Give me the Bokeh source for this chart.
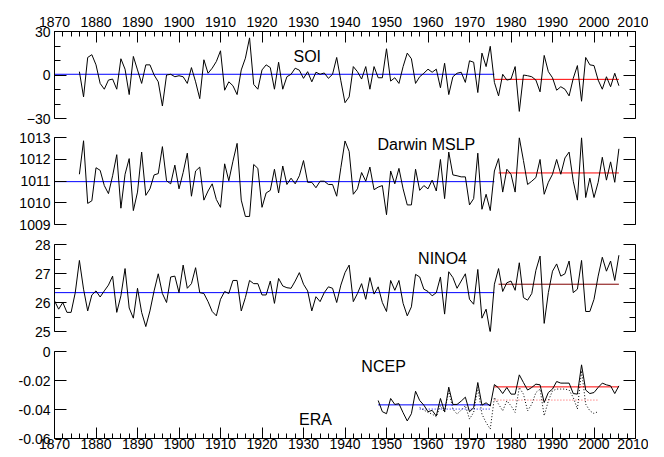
from bokeh.plotting import figure
from bokeh.layouts import column
from bokeh.models import Range1d, LinearAxis, FixedTicker, CustomJSTickFormatter, Label
from bokeh.embed import file_html
from bokeh.resources import INLINE

# ---------------- data ----------------
soi_years = list(range(1876, 2007))
soi = [2.3, -15.1, 12.1, 14.0, 7.0, -5.8, -9.8, -3.5, -2.8, -9.8,
       11.2, 4.0, -13.5, 12.8, 3.5, -5.8, 7.0, 7.0, 0.0, -4.7,
       -21.4, 0.0, 0.5, -1.2, -0.5, -1.2, -5.8, 5.1, -4.7, -16.3,
       10.5, 1.2, 4.7, 9.3, 16.7, -10.5, -4.7, -7.4, -13.5, 3.5,
       11.6, 25.6, -6.5, -9.8, 3.5, 7.0, 5.1, -9.8, 8.8, -9.8,
       -1.2, 0.5, 4.7, 3.3, -2.3, 2.3, -4.7, 1.9, 0.5, 1.4,
       -2.3, 0.5, 12.1, -4.0, -19.1, -15.1, 5.8, 2.3, -2.8, 5.8,
       -9.8, 5.8, -1.9, -1.9, 18.1, -4.2, -1.9, -5.8, 5.8, 15.1,
       11.2, -5.8, -1.2, 1.2, 4.0, 1.9, 4.0, -8.8, 8.1, -13.5,
       -1.2, 1.2, 1.9, -5.1, 9.8, 8.8, -12.1, 15.1, 5.8, 19.8,
       -5.1, -14.4, 0.5, -3.5, -2.8, 5.8, -25.1, 0.0, -0.5, -1.2,
       -3.5, -11.6, 13.5, 2.3, -1.9, -10.5, -8.1, -9.8, -14.4, -2.3,
       6.5, -18.1, 12.1, 7.0, 6.5, -3.5, -9.8, -1.2, -8.1, 1.2, -7.4]
soi_early_years = [1870, 1976]
soi_early_mean = [0.5, 0.5]
soi_late_years = [1976, 2006]
soi_late_mean = [-3.0, -3.0]

darwin_years = list(range(1876, 2007))
darwin = [1011.31, 1012.85, 1009.97, 1010.09, 1011.61, 1011.49, 1010.79, 1010.42, 1011.24, 1012.21,
          1009.75, 1011.31, 1012.03, 1009.64, 1010.49, 1012.33, 1010.34, 1010.64, 1011.28, 1011.34,
          1012.58, 1011.01, 1010.87, 1011.73, 1010.64, 1011.39, 1012.28, 1010.30, 1011.46, 1011.64,
          1010.12, 1010.54, 1010.87, 1010.15, 1009.79, 1011.79, 1011.01, 1011.91, 1012.73, 1010.12,
          1009.37, 1009.37, 1011.76, 1011.58, 1009.79, 1010.45, 1010.57, 1011.54, 1010.45, 1011.69,
          1010.84, 1011.13, 1010.87, 1011.24, 1011.94, 1010.94, 1010.94, 1010.69, 1010.99, 1010.99,
          1010.84, 1010.84, 1010.30, 1011.61, 1012.84, 1012.36, 1010.39, 1010.64, 1011.39, 1010.99,
          1011.64, 1010.60, 1010.72, 1010.79, 1009.45, 1011.46, 1010.87, 1011.58, 1010.64, 1009.90,
          1009.90, 1011.54, 1010.57, 1010.79, 1010.64, 1011.04, 1010.54, 1011.99, 1010.19, 1012.33,
          1011.28, 1011.24, 1011.19, 1011.19, 1009.90, 1010.19, 1012.28, 1009.70, 1010.39, 1009.64,
          1011.46, 1012.03, 1010.49, 1011.54, 1011.31, 1010.49, 1012.99, 1011.94, 1010.84, 1010.99,
          1011.16, 1011.99, 1010.39, 1010.94, 1011.31, 1011.99, 1011.31, 1012.06, 1012.33, 1010.99,
          1010.12, 1012.99, 1010.24, 1011.13, 1010.24, 1010.94, 1012.09, 1011.04, 1011.88, 1010.94, 1012.48]
darwin_early_years = [1870, 1976]
darwin_early_mean = [1010.97, 1010.97]
darwin_late_years = [1977, 2006]
darwin_late_mean = [1011.37, 1011.37]

nino4_years = list(range(1870, 2007))
nino4 = [26.06, 25.77, 26.00, 25.66, 25.66, 26.34, 27.45, 26.46, 25.71, 26.26,
         26.40, 26.19, 26.40, 26.60, 26.91, 25.66, 26.23, 27.17, 25.81, 25.46,
         26.49, 25.66, 25.17, 25.71, 26.40, 26.99, 26.31, 26.00, 26.88, 26.91,
         26.34, 27.29, 26.49, 26.65, 27.20, 26.34, 26.31, 26.03, 25.69, 25.54,
         26.11, 26.38, 26.31, 26.76, 26.76, 25.71, 26.17, 26.76, 26.65, 26.65,
         26.26, 26.26, 26.74, 25.97, 26.83, 26.57, 26.51, 26.49, 26.74, 27.03,
         26.63, 26.40, 25.71, 26.20, 26.03, 26.34, 26.54, 26.49, 26.00, 26.60,
         27.03, 27.29, 26.03, 26.31, 26.65, 26.11, 26.86, 26.29, 26.54, 26.00,
         25.69, 26.76, 26.42, 26.76, 25.97, 25.54, 25.85, 26.97, 26.88, 26.46,
         26.38, 26.23, 26.34, 26.88, 25.60, 27.06, 26.86, 26.49, 26.74, 26.99,
         26.11, 25.94, 27.14, 25.46, 25.77, 24.95, 26.63, 27.17, 26.38, 26.68,
         26.74, 26.42, 27.37, 26.17, 26.08, 26.31, 27.11, 27.60, 25.28, 26.34,
         27.08, 27.33, 26.91, 26.99, 27.43, 26.34, 26.46, 27.45, 25.69, 25.69,
         26.11, 26.91, 27.56, 27.08, 27.43, 26.76, 27.63]
nino4_early_years = [1870, 1976]
nino4_early_mean = [26.34, 26.34]
nino4_late_years = [1977, 2006]
nino4_late_mean = [26.63, 26.63]

ncep_years = list(range(1948, 2007))
ncep = [-0.0338, -0.0415, -0.0429, -0.0324, -0.0365, -0.0360, -0.0422, -0.0479, -0.0429, -0.0274,
        -0.0338, -0.0370, -0.0415, -0.0406, -0.0445, -0.0324, -0.0415, -0.0246, -0.0365, -0.0365,
        -0.0342, -0.0315, -0.0415, -0.0388, -0.0214, -0.0370, -0.0354, -0.0376, -0.0228, -0.0251,
        -0.0290, -0.0248, -0.0294, -0.0294, -0.0161, -0.0214, -0.0266, -0.0248, -0.0225, -0.0230,
        -0.0352, -0.0283, -0.0259, -0.0207, -0.0218, -0.0218, -0.0218, -0.0290, -0.0294, -0.0092,
        -0.0266, -0.0290, -0.0283, -0.0248, -0.0218, -0.0230, -0.0237, -0.0290, -0.0237]
ncep_early_years = [1948, 1975]
ncep_early_mean = [-0.0368, -0.0368]
ncep_late_years = [1976, 2006]
ncep_late_mean = [-0.0244, -0.0244]

era_years = list(range(1958, 2002))
era = [-0.0386, -0.0404, -0.0420, -0.0432, -0.0450, -0.0374, -0.0420, -0.0271, -0.0397, -0.0432,
       -0.0404, -0.0374, -0.0466, -0.0420, -0.0248, -0.0432, -0.0490, -0.0535, -0.0317, -0.0363,
       -0.0409, -0.0340, -0.0374, -0.0420, -0.0248, -0.0294, -0.0409, -0.0363, -0.0283, -0.0259,
       -0.0443, -0.0340, -0.0271, -0.0259, -0.0259, -0.0259, -0.0266, -0.0317, -0.0397, -0.0133,
       -0.0363, -0.0409, -0.0428, -0.0414]
era_early_years = [1958, 1975]
era_early_mean = [-0.0397, -0.0397]
era_late_years = [1976, 2001]
era_late_mean = [-0.0335, -0.0335]

x_major = list(range(1870, 2011, 10))
x_minor = list(range(1870, 2011, 2))
soi_ticks = [-30, 0, 30]
soi_minor = [-30, -20, -10, 0, 10, 20, 30]
darwin_ticks = [1009, 1010, 1011, 1012, 1013]
nino4_ticks = [25, 26, 27, 28]
nino4_minor = [25, 25.5, 26, 26.5, 27, 27.5, 28]
p4_ticks = [-0.06, -0.04, -0.02, 0]

FONT = "Liberation Sans"
TICK_FS = "14px"
LABEL_FS = "16px"
W = 648


def make_panel(y0, y1, ticks, minor, height, top, bottom, fmt=None):
    p = figure(width=W, height=height, x_range=Range1d(1870, 2010), y_range=Range1d(y0, y1),
               output_backend="svg", toolbar_location=None,
               x_axis_location=None, y_axis_location=None,
               min_border_left=54, min_border_right=13,
               min_border_top=top, min_border_bottom=bottom)
    p.outline_line_color = None
    p.xgrid.visible = False
    p.ygrid.visible = False
    left = LinearAxis(ticker=FixedTicker(ticks=ticks, minor_ticks=minor),
                      major_tick_in=12, major_tick_out=0, minor_tick_in=6, minor_tick_out=0,
                      major_label_standoff=4, major_label_text_font=FONT,
                      major_label_text_font_size=TICK_FS, major_label_text_color="black",
                      axis_line_color="black", major_tick_line_color="black",
                      minor_tick_line_color="black")
    if fmt is not None:
        left.formatter = fmt
    p.add_layout(left, "left")
    right = LinearAxis(ticker=FixedTicker(ticks=ticks, minor_ticks=minor),
                       major_tick_in=12, major_tick_out=0, minor_tick_in=6, minor_tick_out=0,
                       major_label_standoff=0,
                       formatter=CustomJSTickFormatter(code="return '';"),
                       axis_line_color="black", major_tick_line_color="black",
                       minor_tick_line_color="black")
    p.add_layout(right, "right")
    return p


def x_axis(standoff):
    return LinearAxis(ticker=FixedTicker(ticks=x_major, minor_ticks=x_minor),
                      major_tick_in=11, major_tick_out=0, minor_tick_in=5, minor_tick_out=0,
                      major_label_standoff=standoff, major_label_text_font=FONT,
                      major_label_text_font_size=TICK_FS, major_label_text_color="black",
                      axis_line_color="black", major_tick_line_color="black",
                      minor_tick_line_color="black")


def add_label(p, x, y, text):
    p.add_layout(Label(x=x, y=y, text=text, text_align="center", text_baseline="middle",
                       text_font=FONT, text_font_size=LABEL_FS, text_color="black"))


# Panel 1: SOI
p1 = make_panel(-30, 30, soi_ticks, soi_minor, 127, 31, 9)
p1.add_layout(x_axis(5), "above")
p1.line(soi_early_years, soi_early_mean, line_color="#0000ff", line_width=1)
p1.line(soi_late_years, soi_late_mean, line_color="#ff0000", line_width=1)
p1.line(soi_years, soi, line_color="black", line_width=1)
add_label(p1, 1930.9, 12.8, "SOI")

# Panel 2: Darwin MSLP
p2 = make_panel(1009, 1013, darwin_ticks, darwin_ticks, 107, 10, 10)
p2.line(darwin_early_years, darwin_early_mean, line_color="#0000ff", line_width=1)
p2.line(darwin_late_years, darwin_late_mean, line_color="#ff0000", line_width=1)
p2.line(darwin_years, darwin, line_color="black", line_width=1)
add_label(p2, 1959.6, 1012.69, "Darwin MSLP")

# Panel 3: NINO4
p3 = make_panel(25, 28, nino4_ticks, nino4_minor, 107, 10, 10)
p3.line(nino4_early_years, nino4_early_mean, line_color="#0000ff", line_width=1)
p3.line(nino4_late_years, nino4_late_mean, line_color="#800000", line_width=1)
p3.line(nino4_years, nino4, line_color="black", line_width=1)
add_label(p3, 1963.5, 27.52, "NINO4")

# Panel 4: NCEP / ERA
fmt4 = CustomJSTickFormatter(code="return Math.abs(tick) < 1e-9 ? '0' : tick.toFixed(2);")
p4 = make_panel(-0.06, 0, p4_ticks, p4_ticks, 113, 10, 16, fmt=fmt4)
p4.add_layout(x_axis(0), "below")
p4.line(era_early_years, era_early_mean, line_color="#0000ff", line_width=1, line_dash="1 2")
p4.line(era_late_years, era_late_mean, line_color="#ff0000", line_width=1, line_dash="1 2", line_alpha=0.7)
p4.line(era_years, era, line_color="black", line_width=1, line_dash="1 2")
p4.line(ncep_early_years, ncep_early_mean, line_color="#0000ff", line_width=1)
p4.line(ncep_late_years, ncep_late_mean, line_color="#ff0000", line_width=1)
p4.line(ncep_years, ncep, line_color="black", line_width=1)
add_label(p4, 1949.3, -0.0103, "NCEP")
add_label(p4, 1932.9, -0.0469, "ERA")

layout = column(p1, p2, p3, p4, spacing=0)
open("out.html", "w").write(file_html(layout, INLINE))
